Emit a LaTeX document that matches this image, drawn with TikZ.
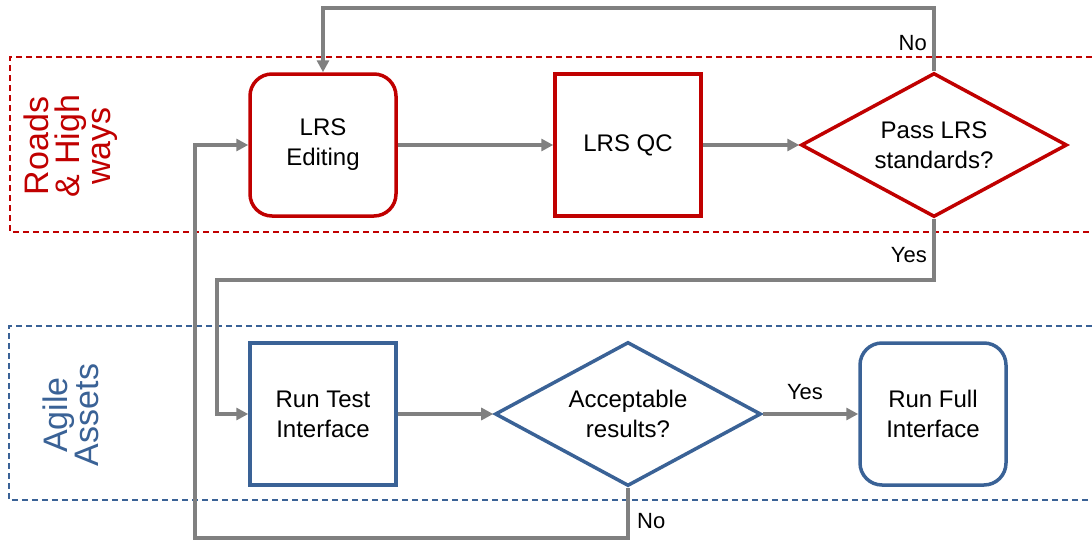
\documentclass[tikz,border=0pt]{standalone}
\usepackage{fontspec}
\setmainfont{Liberation Sans}
\usetikzlibrary{shapes.geometric, arrows.meta, positioning, calc}
\definecolor{roadred}{RGB}{192,0,0}
\definecolor{agileblue}{RGB}{58,98,150}
\definecolor{flowgrey}{RGB}{128,128,128}

\begin{document}
\begin{tikzpicture}[x=1pt, y=-1pt,
  procbox/.style={draw, line width=3.5pt, minimum width=146pt, minimum height=142pt,
    inner sep=0pt, align=center, font=\fontsize{24}{30}\selectfont},
  roundbox/.style={procbox, rounded corners=22pt},
  decision/.style={diamond, aspect=1.87, draw, line width=3.5pt, minimum width=266pt, minimum height=144pt,
    inner sep=0pt, align=center, font=\fontsize{24}{30}\selectfont},
  flow/.style={draw=flowgrey, line width=3.5pt, -{Triangle[length=12pt, width=12pt]}},
  flowlbl/.style={font=\fontsize{22}{26}\selectfont, inner sep=1pt},
  lane/.style={dashed, line width=1.2pt, dash pattern=on 6pt off 4pt},
  lanelbl/.style={rotate=90, align=center, inner sep=0pt, font=\fontsize{34}{31}\selectfont}
]
\useasboundingbox (0,0) rectangle (1092,541);

% swim lanes
\draw[lane, roadred] (1092,57) -- (10,57) -- (10,232) -- (1092,232);
\draw[lane, agileblue] (1092,326) -- (9,326) -- (9,500) -- (1092,500);
\node[lanelbl, text=roadred] (roadslbl) at (71,146) {Roads\\\& High\\ways};
\node[lanelbl, text=agileblue] (agilelbl) at (71,415) {Agile\\Assets};

% steps
\node[roundbox, draw=roadred] (editing) at (323,145) {LRS\\Editing};
\node[procbox, draw=roadred] (qc) at (628,145) {LRS QC};
\node[decision, draw=roadred] (passlrs) at (934,145) {Pass LRS\\standards?};
\node[procbox, draw=agileblue] (testif) at (323,414) {Run Test\\Interface};
\node[decision, draw=agileblue] (acceptable) at (628,414) {Acceptable\\results?};
\node[roundbox, draw=agileblue] (fullif) at (933,414) {Run Full\\Interface};

% levels of the loop-backs
\coordinate (nolevel) at (0,8);
\coordinate (yeslevel) at (217,280);
\coordinate (backlevel) at (195,538);

% connectors
\draw[flow] (editing) -- (qc);
\draw[flow] (qc) -- (passlrs);
\draw[flow] (passlrs.north) -- (passlrs.north |- nolevel) -| (editing.north);
\draw[flow] (passlrs.south) -- (passlrs.south |- yeslevel) -- (yeslevel) |- (testif.west);
\draw[flow] (testif) -- (acceptable);
\draw[flow] (acceptable) -- (fullif);
\draw[flow] (acceptable.south) -- (acceptable.south |- backlevel) -- (backlevel) |- (editing.west);

% branch labels
\node[flowlbl, anchor=east] (nolrs) at (928,43) {No};
\node[flowlbl, anchor=east] (yeslrs) at (928,255) {Yes};
\node[flowlbl] (yesacc) at (805,392) {Yes};
\node[flowlbl, anchor=west] (noacc) at (636,521) {No};
\end{tikzpicture}
\end{document}
